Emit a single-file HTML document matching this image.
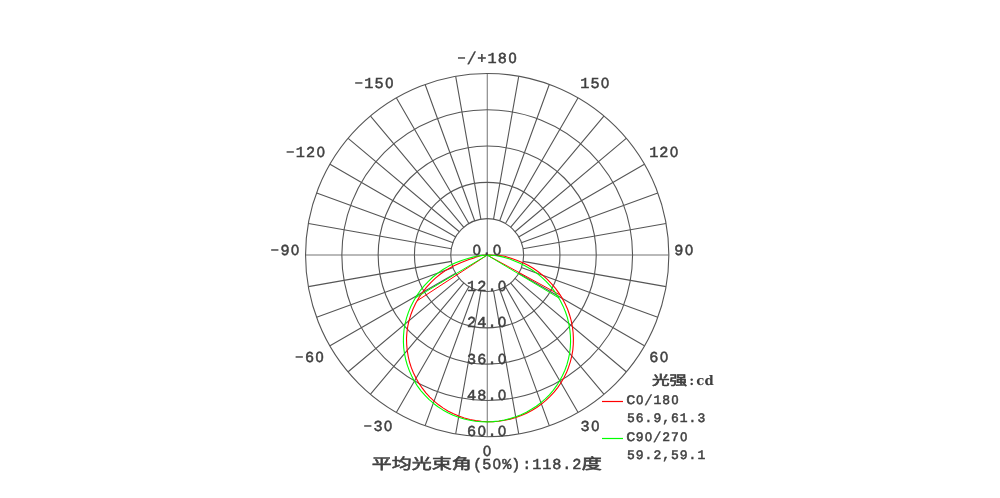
<!DOCTYPE html>
<html lang="zh"><head><meta charset="utf-8"><title>光强分布 Polar</title>
<style>html,body{margin:0;padding:0;background:#fff}body{width:1000px;height:498px;overflow:hidden}svg{display:block}text{font-family:"Liberation Mono",monospace;fill:#404040;text-anchor:middle;stroke:#404040;text-rendering:geometricPrecision}.a{font-size:15.2px;stroke-width:0.5px}.l{font-size:13px;stroke-width:0.5px}.h{stroke-width:0.15px}.sl{font-size:114%;stroke-width:0.2px}.b{font-family:"DejaVu Serif","Liberation Serif",serif;font-weight:bold;font-size:13.3px;stroke-width:0}.z{font-family:"Liberation Sans",sans-serif;font-size:96%}.c{font-family:"Noto Sans CJK SC","WenQuanYi Zen Hei",sans-serif;font-weight:400;stroke-width:0.55px}.s{font-family:"Noto Sans CJK SC","WenQuanYi Zen Hei",sans-serif;font-weight:400;stroke-width:0.6px}</style></head><body>
<svg width="1000" height="498" viewBox="0 0 1000 498">
<rect width="1000" height="498" fill="#fff"/>
<g fill="none" stroke="#565656" stroke-width="1.1">
<circle cx="487.20" cy="255.10" r="36.45"/>
<circle cx="487.20" cy="255.10" r="72.75"/>
<circle cx="487.20" cy="255.10" r="109.05"/>
<circle cx="487.20" cy="255.10" r="145.35"/>
<circle cx="487.20" cy="255.10" r="181.65"/>
<path d="M493.50 290.85 L518.72 433.84 M499.62 289.21 L549.28 425.65 M505.35 286.54 L577.95 412.28 M510.53 282.91 L603.87 394.14 M515.01 278.43 L626.24 371.77 M518.64 273.25 L644.38 345.85 M521.31 267.52 L657.75 317.18 M522.95 261.40 L665.94 286.62 M522.95 248.80 L665.94 223.58 M521.31 242.68 L657.75 193.02 M518.64 236.95 L644.38 164.35 M515.01 231.77 L626.24 138.43 M510.53 227.29 L603.87 116.06 M505.35 223.66 L577.95 97.92 M499.62 220.99 L549.28 84.55 M493.50 219.35 L518.72 76.36 M480.90 219.35 L455.68 76.36 M474.78 220.99 L425.12 84.55 M469.05 223.66 L396.45 97.92 M463.87 227.29 L370.53 116.06 M459.39 231.77 L348.16 138.43 M455.76 236.95 L330.02 164.35 M453.09 242.68 L316.65 193.02 M451.45 248.80 L308.46 223.58 M451.45 261.40 L308.46 286.62 M453.09 267.52 L316.65 317.18 M455.76 273.25 L330.02 345.85 M459.39 278.43 L348.16 371.77 M463.87 282.91 L370.53 394.14 M469.05 286.54 L396.45 412.28 M474.78 289.21 L425.12 425.65 M480.90 290.85 L455.68 433.84"/>
</g>
<g fill="none" stroke="#5a5a5a" stroke-width="0.85">
<path d="M487.25 73.60 V436.60"/>
<path d="M305.70 255.00 H668.70"/>
</g>
<path d="M487.2 255.1L484.9 255.2L482.5 255.4L480.2 255.8L478.0 256.4L475.7 257.1L474.1 257.9L469.0 259.6L461.3 262.5L453.4 266.1L446.5 269.9L440.5 274.0L435.4 278.2L430.8 282.6L426.4 287.4L422.5 292.5L418.9 297.8L415.7 303.3L413.0 309.0L410.8 314.8L409.0 320.7L407.7 326.7L406.9 332.6L406.5 338.6L406.7 344.6L407.2 350.4L408.2 356.3L409.5 362.0L411.3 367.6L413.5 373.0L416.1 378.3L419.0 383.4L422.3 388.2L425.9 392.8L429.8 397.1L434.1 401.1L438.6 404.8L443.3 408.1L448.3 411.2L453.5 413.8L458.8 416.1L464.3 418.0L469.9 419.5L475.6 420.6L481.4 421.3L487.2 421.7L493.0 421.6L498.8 421.2L504.6 420.3L510.2 419.1L515.8 417.5L521.3 415.5L526.6 413.2L531.8 410.5L536.7 407.5L541.4 404.1L545.9 400.4L550.1 396.4L554.1 392.2L557.7 387.6L561.0 382.8L563.9 377.8L566.5 372.6L568.6 367.2L570.4 361.6L571.8 355.9L572.8 350.1L573.3 344.3L573.4 338.4L573.1 332.5L572.4 326.6L571.2 320.7L569.6 315.0L567.6 309.3L565.1 303.8L562.3 298.4L559.1 293.3L555.5 288.4L551.6 283.8L547.3 279.4L542.9 275.4L538.2 271.7L533.2 268.3L528.1 265.3L522.8 262.7L517.3 260.4L511.8 258.6L507.7 257.3L504.7 256.3L499.4 255.5L487.2 255.1" fill="none" stroke="#ff0000" stroke-width="1.1" stroke-linejoin="round"/>
<path d="M487.20 255.10 L417.12 300.79" fill="none" stroke="#ff0000" stroke-width="1"/>
<path d="M487.20 255.10 L560.22 295.08" fill="none" stroke="#ff0000" stroke-width="1"/>
<path d="M487.2 255.1L483.6 255.2L480.1 255.6L476.6 256.2L472.9 257.1L467.9 258.5L461.6 260.5L455.0 263.1L448.8 266.1L443.0 269.5L437.8 273.1L432.9 277.0L428.4 281.3L424.1 285.9L420.2 290.7L416.6 295.8L413.5 301.2L410.7 306.7L408.4 312.4L406.5 318.2L405.0 324.1L404.0 330.0L403.5 336.0L403.4 341.9L403.7 347.8L404.5 353.7L405.7 359.5L407.3 365.1L409.3 370.6L411.7 376.0L414.4 381.2L417.5 386.1L421.0 390.8L424.8 395.2L428.9 399.4L433.3 403.2L437.9 406.7L442.8 409.9L447.9 412.7L453.2 415.2L458.6 417.3L464.2 419.0L469.8 420.3L475.6 421.2L481.4 421.7L487.2 421.9L493.0 421.6L498.8 421.0L504.5 420.0L510.2 418.6L515.7 416.8L521.1 414.7L526.4 412.2L531.4 409.3L536.3 406.2L540.9 402.7L545.3 398.9L549.4 394.8L553.2 390.3L556.6 385.7L559.7 380.8L562.5 375.6L564.9 370.3L566.9 364.7L568.4 359.1L569.6 353.3L570.3 347.4L570.6 341.4L570.4 335.5L569.8 329.5L568.8 323.6L567.4 317.7L565.5 312.0L563.2 306.4L560.5 300.9L557.5 295.7L554.0 290.6L550.3 285.9L546.1 281.3L541.6 277.1L536.7 273.1L531.4 269.5L525.8 266.2L520.0 263.3L514.5 260.9L509.8 259.1L505.5 257.7L501.2 256.6L496.6 255.8L491.9 255.3L487.2 255.1" fill="none" stroke="#00ff00" stroke-width="1.1" stroke-linejoin="round"/>
<path d="M487.20 255.10 L415.34 297.94" fill="none" stroke="#00ff00" stroke-width="1"/>
<path d="M487.20 255.10 L558.87 297.99" fill="none" stroke="#00ff00" stroke-width="1"/>
<path d="M602 401.5 H623" stroke="#ff0000" stroke-width="1.2"/>
<path d="M602 438.5 H623" stroke="#00ff00" stroke-width="1.2"/>
<text class="a" x="461.57 471.75 481.92 492.09 502.26 512.43" y="62.10 63.90 63.00 63.00 63.00 63.00"><tspan class="h" textLength="15.05" lengthAdjust="spacingAndGlyphs">-</tspan><tspan class="sl">/</tspan><tspan>+18</tspan><tspan class="z">0</tspan></text>
<text class="a" x="358.75 368.92 379.09 389.26" y="86.60 87.50 87.50 87.50"><tspan class="h" textLength="15.05" lengthAdjust="spacingAndGlyphs">-</tspan><tspan>15</tspan><tspan class="z">0</tspan></text>
<text class="a" x="584.83 595.00 605.17" y="87.50"><tspan>15</tspan><tspan class="z">0</tspan></text>
<text class="a" x="290.25 300.42 310.59 320.76" y="155.60 156.50 156.50 156.50"><tspan class="h" textLength="15.05" lengthAdjust="spacingAndGlyphs">-</tspan><tspan>12</tspan><tspan class="z">0</tspan></text>
<text class="a" x="653.73 663.90 674.07" y="156.50"><tspan>12</tspan><tspan class="z">0</tspan></text>
<text class="a" x="274.83 285.00 295.17" y="254.10 255.00 255.00"><tspan class="h" textLength="15.05" lengthAdjust="spacingAndGlyphs">-</tspan><tspan>9</tspan><tspan class="z">0</tspan></text>
<text class="a" x="678.92 689.09" y="255.00"><tspan>9</tspan><tspan class="z">0</tspan></text>
<text class="a" x="299.33 309.50 319.67" y="361.30 362.20 362.20"><tspan class="h" textLength="15.05" lengthAdjust="spacingAndGlyphs">-</tspan><tspan>6</tspan><tspan class="z">0</tspan></text>
<text class="a" x="653.92 664.09" y="362.20"><tspan>6</tspan><tspan class="z">0</tspan></text>
<text class="a" x="367.83 378.00 388.17" y="430.30 431.20 431.20"><tspan class="h" textLength="15.05" lengthAdjust="spacingAndGlyphs">-</tspan><tspan>3</tspan><tspan class="z">0</tspan></text>
<text class="a" x="585.12 595.29" y="431.10"><tspan>3</tspan><tspan class="z">0</tspan></text>
<text class="a" x="487.10" y="456.00"><tspan class="z">0</tspan></text>
<text class="a" x="476.73 486.90 497.07" y="254.60"><tspan class="z">0</tspan><tspan>.</tspan><tspan class="z">0</tspan></text>
<text class="a" x="471.64 481.81 491.99 502.16" y="290.90"><tspan>12.</tspan><tspan class="z">0</tspan></text>
<text class="a" x="471.64 481.81 491.99 502.16" y="327.20"><tspan>24.</tspan><tspan class="z">0</tspan></text>
<text class="a" x="471.64 481.81 491.99 502.16" y="363.50"><tspan>36.</tspan><tspan class="z">0</tspan></text>
<text class="a" x="471.64 481.81 491.99 502.16" y="399.80"><tspan>48.</tspan><tspan class="z">0</tspan></text>
<text class="a" x="471.64 481.81 491.99 502.16" y="436.10"><tspan>6</tspan><tspan class="z">0</tspan><tspan>.</tspan><tspan class="z">0</tspan></text>
<text class="l" x="630.90 639.70 648.50 657.30 666.10 674.90" y="404.00 404.00 404.90 404.00 404.00 404.00"><tspan textLength="9.20" lengthAdjust="spacingAndGlyphs">C</tspan><tspan class="z">0</tspan><tspan class="sl">/</tspan><tspan>18</tspan><tspan class="z">0</tspan></text>
<text class="l" x="630.90 639.70 648.50 657.30 666.10 674.90 683.70 692.50 701.30" y="422.40"><tspan>56.9,61.3</tspan></text>
<text class="l" x="630.90 639.70 648.50 657.30 666.10 674.90 683.70" y="440.80 440.80 440.80 441.70 440.80 440.80 440.80"><tspan textLength="9.20" lengthAdjust="spacingAndGlyphs">C</tspan><tspan>9</tspan><tspan class="z">0</tspan><tspan class="sl">/</tspan><tspan>27</tspan><tspan class="z">0</tspan></text>
<text class="l" x="630.90 639.70 648.50 657.30 666.10 674.90 683.70 692.50 701.30" y="459.20"><tspan>59.2,59.1</tspan></text>
<text class="l" x="660.80 678.40 691.60 700.40 709.20" y="385.00"><tspan class="s" font-size="13.20px" textLength="35.20" lengthAdjust="spacingAndGlyphs">光强</tspan><tspan class="b">:cd</tspan></text>
<text class="a" x="381.70 401.70 421.70 441.70 461.70 477.50 486.70 496.70 506.70 515.90 526.70 536.70 546.70 556.70 566.70 576.70 591.70" y="468.90 468.90 468.90 468.90 468.90 468.50 468.50 468.50 468.50 468.50 468.50 468.50 468.50 468.50 468.50 468.50 468.90"><tspan class="c" font-size="15.00px" textLength="100.00" lengthAdjust="spacingAndGlyphs">平均光束角</tspan><tspan>(5</tspan><tspan class="z">0</tspan><tspan>%):118.2</tspan><tspan class="c" font-size="15.00px" textLength="20.00" lengthAdjust="spacingAndGlyphs">度</tspan></text>
</svg></body></html>
